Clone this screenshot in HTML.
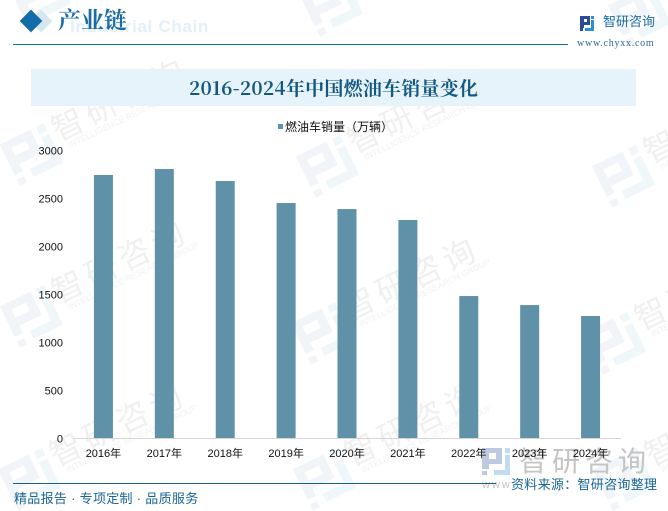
<!DOCTYPE html>
<html lang="zh"><head><meta charset="utf-8"><title>2016-2024年中国燃油车销量变化</title>
<style>
html,body{margin:0;padding:0;background:#fff;overflow:hidden}
body{position:relative;width:668px;height:511px;overflow:hidden}
svg{display:block}
#wm-wrap{position:absolute;left:0;top:0;width:668px;height:511px;overflow:hidden}
#chart{position:absolute;left:0;top:0}
.cjk{font-family:"Liberation Sans","WenQuanYi Zen Hei","Noto Sans CJK SC",sans-serif}
.serif{font-family:"Liberation Serif","Noto Serif CJK SC",serif}
.cjkserif{font-family:"Noto Serif CJK SC","Liberation Serif",serif}
</style></head>
<body>
<div id="wm-wrap">
<svg width="668" height="511" viewBox="0 0 668 511" xmlns="http://www.w3.org/2000/svg"><g id="watermarks"></g></svg>
</div>
<svg id="chart" width="668" height="511" viewBox="0 0 668 511" xmlns="http://www.w3.org/2000/svg">

<g>
<rect x="33" y="13" width="16" height="16" transform="rotate(45 41 21)" fill="#d7e6ef"/>
<rect x="23" y="13" width="16" height="16" transform="rotate(45 31 21)" fill="#126ca9"/>
<text x="70" y="32" font-family="Liberation Sans,sans-serif" font-weight="bold" font-size="17" letter-spacing=".65" fill="#e3f0fa">Industrial Chain</text>
<text x="58" y="28" class="cjkserif" font-size="23" font-weight="700" fill="#1a6ca6">产业链</text>
<rect x="13" y="44" width="555" height="1" fill="#1169a6"/>
<g>
<path d="M580 16h10v9h-6v3h-4zM584 19v3h3v-3z" fill="#2c4a9a"/>
<rect x="580" y="28" width="3" height="3" fill="#2c4a9a"/>
<path d="M591 16h3v3h-3zM591 20h3v11h-9v-3h6z" fill="#2f8fd6"/>
</g>
<text x="603" y="26" class="cjk" font-size="13" fill="#1a6ca6">智研咨询</text>
<text x="577" y="46" class="serif" font-size="10" letter-spacing=".75" fill="#2a6a9a">www.chyxx.com</text>
</g>

<rect x="31" y="69" width="605" height="37" fill="#e6f3fb"/>
<text x="189" y="95" textLength="289" lengthAdjust="spacing" class="cjkserif" font-size="19" font-weight="bold" fill="#15587f">2016-2024年中国燃油车销量变化</text>

<g>
<rect x="278" y="124" width="5" height="5" fill="#5f92a9"/>
<text x="285" y="131" class="cjk" font-size="12" fill="#111">燃油车销量（万辆）</text>
</g>

<g id="bars"></g>
<g id="y-axis"></g>

<g>
<path d="M482 448h20v16h-13v5h-7zM489 453v6h7v-6z" fill="#bcc9de"/>
<rect x="482" y="471" width="5" height="4" fill="#bcc9de"/>
<path d="M505 448h5v5h-5zM505 455h5v20h-16v-5h11z" fill="#bfdcf0"/>
<text x="519" y="471" class="cjk" font-size="28" letter-spacing="5" fill="#c4c4c4">智研咨询</text>
<text x="482" y="488" font-family="Liberation Sans,sans-serif" font-size="11" letter-spacing="2" fill="#c4c4c4">www</text>
</g>
<g id="x-axis"></g>

<g>
<rect x="13" y="483" width="483" height="1" fill="#1a5f8a"/>
<text x="14" y="503" class="cjk" font-size="13" letter-spacing=".3" fill="#1a6595">精品报告 · 专项定制 · 品质服务</text>
<text x="511" y="489" class="cjk" font-size="13" letter-spacing=".3" fill="#1a6595">资料来源：智研咨询整理</text>
</g>
</svg>

<script>
const categories = ['2016年','2017年','2018年','2019年','2020年','2021年','2022年','2023年','2024年'];
const salesValues = [2745,2807,2682,2453,2390,2276,1484,1390,1276];
const yTickLabels = [0,500,1000,1500,2000,2500,3000];

const NS = 'http://www.w3.org/2000/svg';
const plot = {left:73,right:621,top:150.5,bottom:438.5,yMax:3000,barWidth:19};
function yScale(v){return plot.bottom-(v/plot.yMax)*(plot.bottom-plot.top);}
function xBand(i){return plot.left+(i+0.5)*(plot.right-plot.left)/categories.length;}
function make(tag,attrs,parent,text){
  const el=document.createElementNS(NS,tag);
  for(const k in attrs){el.setAttribute(k,attrs[k]);}
  if(text!==undefined){el.textContent=text;}
  parent.appendChild(el);
  return el;
}

const barsG=document.getElementById('bars');
salesValues.forEach(function(v,i){
  const top=yScale(v);
  const bar=make('rect',{x:xBand(i)-plot.barWidth/2,y:top,width:plot.barWidth,height:plot.bottom-top,fill:'#5f92a9'},barsG);
  
  
});

const yG=document.getElementById('y-axis');
yTickLabels.forEach(function(t){
  const label=make('text',{x:63,y:yScale(t)+4,'text-anchor':'end','font-family':'Liberation Sans,sans-serif','font-size':11,fill:'#111'},yG,String(t));
  
  
});

const xG=document.getElementById('x-axis');
const axisLine=make('rect',{x:plot.left,y:plot.bottom-0.5,width:plot.right-plot.left,height:1,fill:'#d4d4d4'},xG);


categories.forEach(function(c,i){
  const label=make('text',{x:xBand(i),y:457,'text-anchor':'middle','font-family':'"Liberation Sans","WenQuanYi Zen Hei","Noto Sans CJK SC",sans-serif','font-size':11,fill:'#111'},xG,c);
  
  
});

const wmAnchors=[[40,-8],[332,2],[640,12],[32,151],[328,163],[624,173],[32,313],[323,330],[615,340],[30,476],[325,476],[625,476]];
const wmG=document.getElementById('watermarks');
wmAnchors.forEach(function(p){
  const unit=make('g',{transform:'translate('+p[0]+' '+p[1]+')'},wmG);
  
  
  const logo=make('g',{transform:'rotate(-26)'},unit);
  make('path',{d:'M-26 -20H8V6H-17V14H-26ZM-17 -12V-3H-1V-12Z',fill:'#f1f4f8','fill-rule':'evenodd'},logo);
  make('rect',{x:-26,y:19,width:8,height:7,fill:'#f1f4f8'},logo);
  make('path',{d:'M14 -20H23V-12H14ZM14 -8H23V24H-10V15H14Z',fill:'#eff7fb'},logo);
  make('text',{transform:'translate(26.4 -9) rotate(-26)','font-family':'"Noto Sans CJK SC",sans-serif','font-size':32,'letter-spacing':5,fill:'#f0f0f0'},unit,'智研咨询');
  make('text',{transform:'translate(38 -3) rotate(-26)','font-family':'Liberation Sans,sans-serif','font-size':8.5,fill:'#f1f1f1'},unit,'INTELLIGENCE RESEARCH GROUP');
});
</script>
</body></html>
